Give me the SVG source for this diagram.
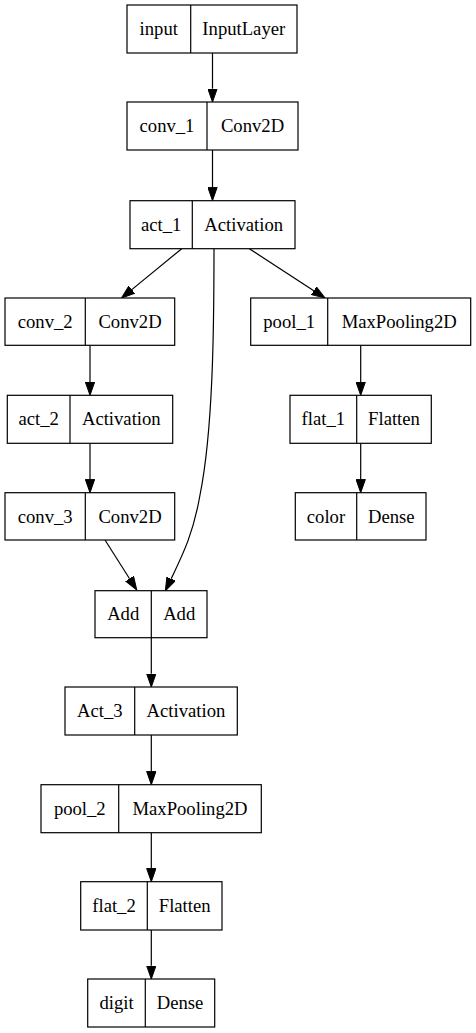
<svg xmlns="http://www.w3.org/2000/svg" width="476" height="1033" viewBox="0 0 476 1033">
<style>
.n rect{fill:#fff;stroke:#000;stroke-width:1.2}
.n line{stroke:#000;stroke-width:1.2}
.n text{font-family:'Liberation Serif','Times New Roman',serif;font-size:18.67px;text-anchor:middle;fill:#000}
.e path{fill:none;stroke:#000;stroke-width:1.2}
</style>
<defs>
<marker id="ah" markerUnits="userSpaceOnUse" viewBox="0 0 14 10" refX="0" refY="5" markerWidth="14" markerHeight="10" orient="auto">
<path d="M0,0.33 L13.33,5 L0,9.67 z" fill="#000" stroke="#000" stroke-width="1"/>
</marker>
</defs>
<rect width="476" height="1033" fill="#fff"/>
<g class="e" id="edges">
<path d="M212.5,53 V88.7" marker-end="url(#ah)"/>
<path d="M212.5,150 V187.3" marker-end="url(#ah)"/>
<path d="M181.7,248.7 L131.8,289.6" marker-end="url(#ah)"/>
<path d="M249.3,248.7 L313.8,290.7" marker-end="url(#ah)"/>
<path d="M214,248.7 C214,330 213,430 200,495 C193,535 182,556 171.1,578.8" marker-end="url(#ah)"/>
<path d="M105,540 L129.6,578.7" marker-end="url(#ah)"/>
<path d="M90,345.3 V382" marker-end="url(#ah)"/>
<path d="M90,443.3 V479.4" marker-end="url(#ah)"/>
<path d="M360.7,345.3 V382" marker-end="url(#ah)"/>
<path d="M360.7,443.3 V479.4" marker-end="url(#ah)"/>
<path d="M151.3,637.7 V673.7" marker-end="url(#ah)"/>
<path d="M151.3,735 V771.4" marker-end="url(#ah)"/>
<path d="M151.3,832.7 V868.4" marker-end="url(#ah)"/>
<path d="M151.3,930 V965.7" marker-end="url(#ah)"/>
</g>
<g class="n" id="input"><rect x="127" y="5" width="170" height="48"/><line x1="190.7" y1="5" x2="190.7" y2="53"/><text x="158.8" y="35">input</text><text x="243.8" y="35">InputLayer</text></g>
<g class="n" id="conv_1"><rect x="127" y="102" width="171" height="48"/><line x1="207" y1="102" x2="207" y2="150"/><text x="167" y="132">conv_1</text><text x="252.5" y="132">Conv2D</text></g>
<g class="n" id="act_1"><rect x="130" y="200.7" width="165" height="48"/><line x1="192.3" y1="200.7" x2="192.3" y2="248.7"/><text x="161.2" y="230.7">act_1</text><text x="243.7" y="230.7">Activation</text></g>
<g class="n" id="conv_2"><rect x="5" y="298" width="169.7" height="47.3"/><line x1="85.3" y1="298" x2="85.3" y2="345.3"/><text x="45.2" y="328">conv_2</text><text x="130" y="328">Conv2D</text></g>
<g class="n" id="pool_1"><rect x="250.7" y="298" width="220" height="47.3"/><line x1="327.7" y1="298" x2="327.7" y2="345.3"/><text x="289.2" y="328">pool_1</text><text x="399.2" y="328">MaxPooling2D</text></g>
<g class="n" id="act_2"><rect x="7.3" y="395.3" width="165.4" height="48"/><line x1="70" y1="395.3" x2="70" y2="443.3"/><text x="38.7" y="425.3">act_2</text><text x="121.3" y="425.3">Activation</text></g>
<g class="n" id="flat_1"><rect x="290" y="395.3" width="141.3" height="48"/><line x1="356.7" y1="395.3" x2="356.7" y2="443.3"/><text x="323.3" y="425.3">flat_1</text><text x="394" y="425.3">Flatten</text></g>
<g class="n" id="conv_3"><rect x="5" y="492.7" width="169.7" height="47.3"/><line x1="85.3" y1="492.7" x2="85.3" y2="540"/><text x="45.2" y="522.7">conv_3</text><text x="130" y="522.7">Conv2D</text></g>
<g class="n" id="color"><rect x="295.3" y="492.7" width="130.7" height="47.3"/><line x1="356.7" y1="492.7" x2="356.7" y2="540"/><text x="326" y="522.7">color</text><text x="391.3" y="522.7">Dense</text></g>
<g class="n" id="add"><rect x="95" y="590.7" width="112" height="47"/><line x1="151.3" y1="590.7" x2="151.3" y2="637.7"/><text x="123.2" y="620">Add</text><text x="179.2" y="620">Add</text></g>
<g class="n" id="act_3"><rect x="65" y="687" width="172.3" height="48"/><line x1="134.7" y1="687" x2="134.7" y2="735"/><text x="99.8" y="717">Act_3</text><text x="186" y="717">Activation</text></g>
<g class="n" id="pool_2"><rect x="41" y="784.7" width="220.3" height="48"/><line x1="118.7" y1="784.7" x2="118.7" y2="832.7"/><text x="79.8" y="814.7">pool_2</text><text x="190" y="814.7">MaxPooling2D</text></g>
<g class="n" id="flat_2"><rect x="80.7" y="881.7" width="141.3" height="48.3"/><line x1="147.3" y1="881.7" x2="147.3" y2="930"/><text x="114" y="911.7">flat_2</text><text x="184.7" y="911.7">Flatten</text></g>
<g class="n" id="digit"><rect x="87.7" y="979" width="127" height="48"/><line x1="145.3" y1="979" x2="145.3" y2="1027"/><text x="116.5" y="1009">digit</text><text x="180" y="1009">Dense</text></g>
</svg>
